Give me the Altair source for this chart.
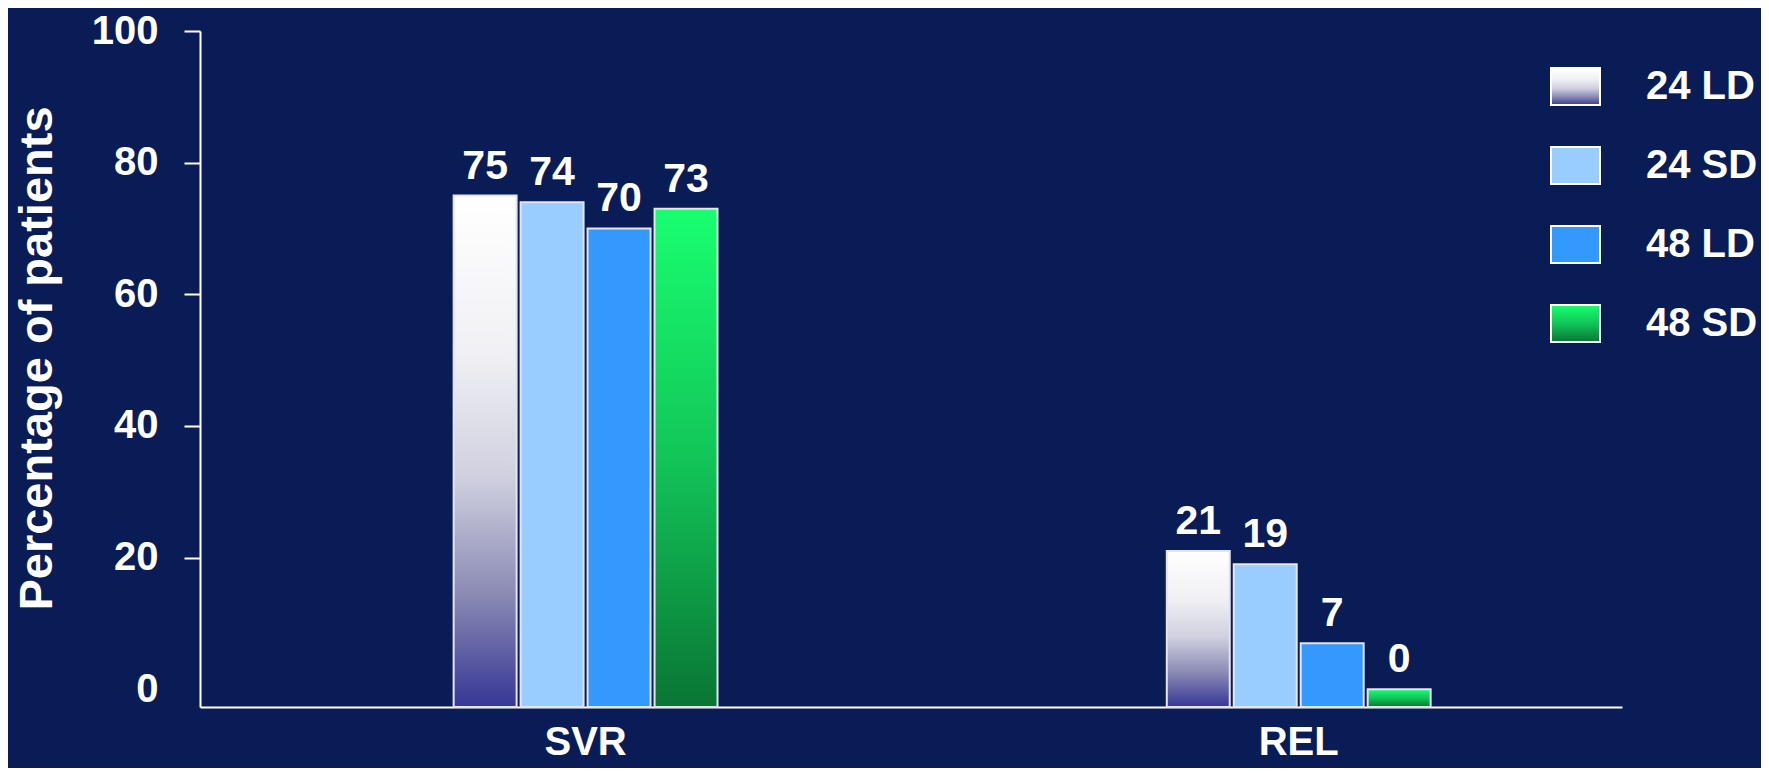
import altair as alt
import pandas as pd

categories = ["SVR", "REL"]
series = ["24 LD", "24 SD", "48 LD", "48 SD"]
svr_values = [75, 74, 70, 73]
rel_values = [21, 19, 7, 0]

rows = []
for s, v in zip(series, svr_values):
    rows.append({"measure": "SVR", "series": s, "value": v})
for s, v in zip(series, rel_values):
    rows.append({"measure": "REL", "series": s, "value": v})
df = pd.DataFrame(rows)

FONT = "Liberation Sans"
BG = "#0a1c55"
Y_MIN = -2.7  # axis baseline sits slightly below 0 in the reference

grad_ld24 = alt.ExprRef(
    "{gradient: 'linear', x1: 0, y1: 0, x2: 0, y2: 1, stops: ["
    "{offset: 0, color: '#ffffff'}, {offset: 0.3, color: '#f1f1f5'}, "
    "{offset: 0.55, color: '#d0d0e0'}, {offset: 0.78, color: '#8a8ab4'}, "
    "{offset: 1, color: '#363696'}]}"
)
grad_sd48 = alt.ExprRef(
    "{gradient: 'linear', x1: 0, y1: 0, x2: 0, y2: 1, stops: ["
    "{offset: 0, color: '#19ff70'}, {offset: 0.5, color: '#12c558'}, "
    "{offset: 1, color: '#0a7535'}]}"
)
color_range = [grad_ld24, "#99ccff", "#3399ff", grad_sd48]

W, H = 1422, 676

x_enc = alt.X(
    "measure:N",
    sort=categories,
    title=None,
    scale=alt.Scale(paddingInner=0.63, paddingOuter=0.312, align=0.57),
    axis=alt.Axis(
        labelAngle=0, ticks=False, labelPadding=15, labelFontSize=40,
        labelFont=FONT, labelFontWeight="bold", labelColor="white",
        domainColor="white", domainWidth=2,
    ),
)
xoff_enc = alt.XOffset("series:N", sort=series, scale=alt.Scale(paddingInner=0.06))
y_enc = alt.Y(
    "value:Q",
    scale=alt.Scale(domain=[Y_MIN, 100], nice=False, zero=False),
    axis=alt.Axis(
        values=[0, 20, 40, 60, 80, 100], grid=False,
        title="Percentage of patients", titleFont=FONT, titleFontSize=47,
        titleFontWeight="bold", titleColor="white", titleAngle=270,
        titleX=-139, titleY=327, titleAlign="center", titleBaseline="bottom",
        labelFont=FONT, labelFontSize=40, labelFontWeight="bold",
        labelColor="white", labelPadding=26, tickSize=16, tickWidth=2,
        tickColor="white", domainColor="white", domainWidth=2,
        tickOpacity={"condition": {"test": "datum.value === 0", "value": 0}, "value": 1},
    ),
)

base = alt.Chart(df).encode(x=x_enc, xOffset=xoff_enc)

bars = base.mark_bar(stroke="#e4e4ee", strokeWidth=2).encode(
    y=y_enc,
    y2=alt.Y2(datum=Y_MIN),
    color=alt.Color(
        "series:N",
        sort=series,
        scale=alt.Scale(domain=series, range=color_range),
        legend=alt.Legend(
            title=None, orient="none", legendX=1350, legendY=30,
            symbolType="M-1,-0.755H1V0.755H-1Z", symbolSize=2401,
            symbolStrokeColor="white", symbolStrokeWidth=2, symbolOpacity=1,
            labelFont=FONT, labelFontSize=40, labelFontWeight="bold",
            labelColor="white", labelOffset=45, rowPadding=31, padding=0,
            labelLimit=300,
        ),
    ),
)

labels = base.mark_text(
    baseline="bottom", dy=-8, fontSize=41, fontWeight="bold",
    color="white", font=FONT,
).encode(y=alt.Y("value:Q"), text=alt.Text("value:Q"))

chart = (
    alt.layer(bars, labels)
    .properties(
        width=W, height=H,
        background=BG,
        padding={"left": 192, "top": 23, "right": 139, "bottom": 61},
        autosize=alt.AutoSizeParams(type="none"),
    )
    .configure_view(stroke=None)
)

chart.save("out.html", embed_options={"renderer": "svg", "actions": False})
